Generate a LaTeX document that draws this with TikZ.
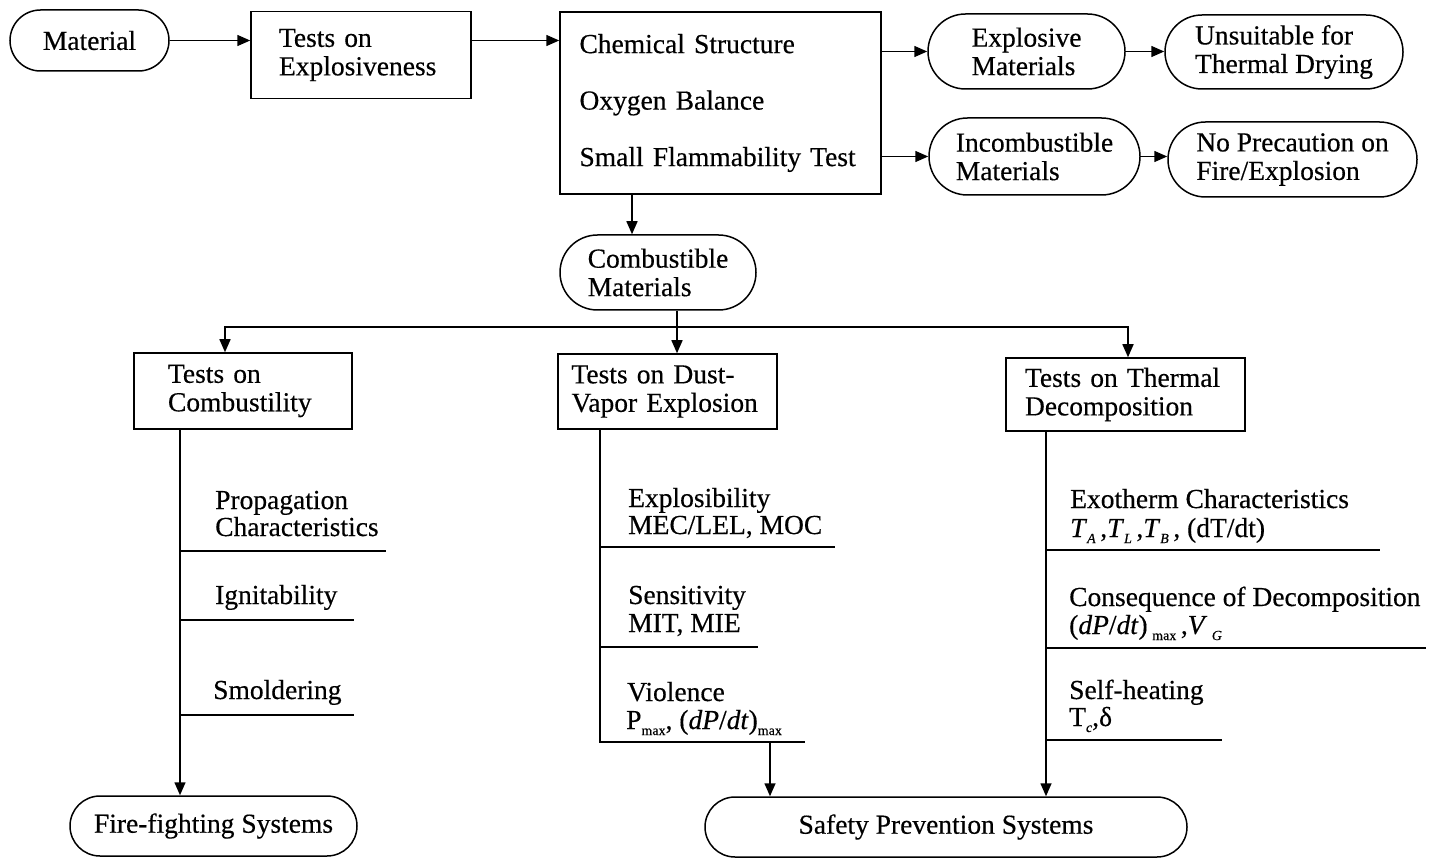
\documentclass[tikz,border=0pt]{standalone}
\usepackage{fontspec}
\setmainfont[FakeBold=0.4]{Liberation Serif}
\usetikzlibrary{arrows.meta}
\newcommand{\mysub}[1]{\raisebox{-0.22em}{\fontsize{14}{14}\selectfont #1}}
\begin{document}
\begin{tikzpicture}[x=1pt,y=-1pt,
  every node/.style={font=\fontsize{27.5}{28.5}\selectfont, inner sep=0pt},
  line/.style={line width=1.5pt},
  arr/.style={line width=1.5pt, -{Triangle[length=13pt,width=11pt]}},
  tbox/.style={draw, line width=1.5pt, align=left, minimum height=#1},
  pill/.style={draw, line width=1.5pt, align=left, minimum height=2*#1, rounded corners=#1},
  lbl/.style={anchor=base west}
]
\fill[white] (0,0) rectangle (1437,858);
\useasboundingbox (0,0) rectangle (1437,858);

% top row
\node[pill=30.5pt, minimum width=159pt] (mat) at (89.5,40.5) {Material};
\node[tbox=87pt, text width=164pt, inner xsep=28pt] (expl) at (361,55) {Tests on\\Explosiveness};
\node[tbox=182pt, text width=282pt, inner xsep=19.5pt] (chem) at (720.5,103)
  {Chemical Structure\\[28pt]Oxygen Balance\\[28pt]Small Flammability Test};
\node[pill=37.5pt, minimum width=197pt] (exm) at (1026.5,51.5) {Explosive\\Materials};
\node[pill=37pt, minimum width=238pt] (uns) at (1284,52) {Unsuitable for\\Thermal Drying};
\node[pill=38.5pt, minimum width=211pt] (inc) at (1034.5,156.5) {Incombustible\\Materials};
\node[pill=37.5pt, minimum width=249pt] (nop) at (1292.5,159.5) {No Precaution on\\Fire/Explosion};
\node[pill=37.5pt, minimum width=196pt] (comb) at (658,272.5) {Combustible\\Materials};

% test boxes
\node[tbox=76pt, text width=150pt, inner xsep=34pt] (ctest) at (243,391) {Tests on\\Combustility};
\node[tbox=75pt, text width=192pt, inner xsep=13.5pt] (dtest) at (667.5,391.5) {Tests on Dust-\\Vapor Explosion};
\node[tbox=73pt, text width=201pt, inner xsep=19pt] (ttest) at (1125.5,394.5) {Tests on Thermal\\Decomposition};

% bottom
\node[pill=30pt, minimum width=287pt] (fire) at (213.5,826) {Fire-fighting Systems};
\node[pill=30pt, minimum width=482pt] (safe) at (946,827) {Safety Prevention Systems};

% helper coordinates
\coordinate (c1) at (632,0);
\coordinate (sp) at (677,327);
\coordinate (lx) at (225,327);
\coordinate (rx) at (1128,327);
\coordinate (lc) at (180,0);
\coordinate (mc) at (600,0);
\coordinate (mb) at (600,742);
\coordinate (me) at (805,742);
\coordinate (ma) at (770,742);
\coordinate (rc) at (1046,0);

% connectors
\draw[arr] (mat.east) -- (mat.east -| expl.west);
\draw[arr] (expl.east |- mat.east) -- (chem.west |- mat.east);
\draw[arr] (chem.east |- exm.west) -- (exm.west);
\draw[arr] (exm.east) -- (exm.east -| uns.west);
\draw[arr] (chem.east |- inc.west) -- (inc.west);
\draw[arr] (inc.east) -- (inc.east -| nop.west);
\draw[arr] (chem.south -| c1) -- (comb.north -| c1);
\draw[line] (comb.south -| sp) -- (sp);
\draw[arr] (sp) -- (dtest.north -| sp);
\draw[arr] (sp) -- (lx) -- (ctest.north -| lx);
\draw[arr] (sp) -- (rx) -- (ttest.north -| rx);
\draw[arr] (ctest.south -| lc) -- (fire.north -| lc);
\draw[line] (dtest.south -| mc) -- (mb) -- (me);
\draw[arr] (ma) -- (safe.north -| ma);
\draw[arr] (ttest.south -| rc) -- (safe.north -| rc);

% underlines
\draw[line] (180,551) -- (386,551);
\draw[line] (180,620) -- (354,620);
\draw[line] (180,715) -- (354,715);
\draw[line] (600,547) -- (835,547);
\draw[line] (600,647) -- (758,647);
\draw[line] (1046,550) -- (1380,550);
\draw[line] (1046,648) -- (1426,648);
\draw[line] (1046,740) -- (1222,740);

% labels
\node[lbl] (t1) at (215,509) {Propagation};
\node[lbl] (t2) at (215,536) {Characteristics};
\node[lbl] (t3) at (215,604) {Ignitability};
\node[lbl] (t4) at (213,699) {Smoldering};
\node[lbl] (m1) at (628,507) {Explosibility};
\node[lbl] (m2) at (628,534) {MEC/LEL, MOC};
\node[lbl] (m3) at (628,604) {Sensitivity};
\node[lbl] (m4) at (628,632) {MIT, MIE};
\node[lbl] (m5) at (627,701) {Violence};
\node[lbl] (m6) at (626,729) {P\mysub{max}, (\textit{dP}/\textit{dt})\mysub{max}};
\node[lbl] (r1) at (1070,508) {Exotherm Characteristics};
\node[lbl] (r2) at (1070,537) {\textit{T}\mysub{\textit{A}}\,,\textit{T}\mysub{\textit{L}}\,,\textit{T}\mysub{\textit{B}}\,, (dT/dt)};
\node[lbl] (r3) at (1069,606) {Consequence of Decomposition};
\node[lbl] (r4) at (1069,634) {(\textit{dP}/\textit{dt})\,\mysub{max}\,,\textit{V}\,\mysub{\textit{G}}};
\node[lbl] (r5) at (1069,699) {Self-heating};
\node[lbl] (r6) at (1069,726) {T\mysub{\textit{c}},δ};
\end{tikzpicture}
\end{document}
